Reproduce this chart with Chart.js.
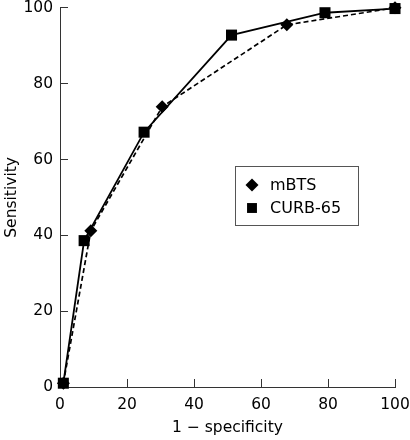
<!DOCTYPE html>
<html>
<head>
<meta charset="utf-8">
<script src="https://cdn.jsdelivr.net/npm/chart.js@4/dist/chart.umd.min.js"></script>
<style>
  html, body { margin: 0; padding: 0; background: #fff; }
  #wrap { width: 410px; height: 440px; }
</style>
</head>
<body>
<div id="wrap"><canvas id="roc"></canvas></div>
<script>
// values (1 - specificity, sensitivity), in %
var mbtsX = [1, 9.2, 30.5, 67.7, 100];
var mbtsY = [1, 41.2, 73.9, 95.5, 100];
var curbX = [1, 7.2, 25.1, 51.2, 79.1, 100];
var curbY = [1, 38.6, 67.2, 92.8, 98.7, 99.8];
var axisTicks = [0, 20, 40, 60, 80, 100];
var seriesNames = ['mBTS', 'CURB-65'];

function pairs(xs, ys) {
  return xs.map(function(x, i) { return { x: x, y: ys[i] }; });
}

var font = { family: 'DejaVu Sans', size: 15.5 };

// legend drawn inside the plot, like the original boxed key
var boxLegend = {
  id: 'boxLegend',
  afterDraw: function(chart) {
    var ctx = chart.ctx;
    ctx.save();
    ctx.strokeStyle = '#555';
    ctx.lineWidth = 1;
    ctx.strokeRect(235.5, 166.5, 123, 59);
    ctx.font = '16px "DejaVu Sans"';
    ctx.textBaseline = 'middle';
    var rows = [185, 208];
    chart.data.datasets.forEach(function(ds, i) {
      ctx.fillStyle = '#000';
      ctx.strokeStyle = '#000';
      ctx.lineWidth = 1;
      Chart.helpers.drawPoint(ctx, {
        pointStyle: ds.pointStyle,
        radius: ds.pointStyle === 'rect' ? 7 : 6.5,
        rotation: 0
      }, 252, rows[i]);
      ctx.fillText(ds.label, 270, rows[i] + 1);
    });
    ctx.restore();
  }
};

function fixY(scale) {
  scale.width = 60;
  scale.paddingTop = 0;
  scale.paddingBottom = 0;
}
function fixX(scale) {
  scale.height = 53;
  scale.paddingLeft = 0;
  scale.paddingRight = 0;
}

new Chart(document.getElementById('roc'), {
  type: 'scatter',
  data: {
    datasets: [{
      label: seriesNames[0],
      data: pairs(mbtsX, mbtsY),
      showLine: true,
      borderColor: '#000',
      borderWidth: 1.7,
      borderDash: [5, 3],
      backgroundColor: '#000',
      pointStyle: 'rectRot',
      pointRadius: 6.5,
      pointBorderWidth: 0,
      clip: false,
      order: 2
    }, {
      label: seriesNames[1],
      data: pairs(curbX, curbY),
      showLine: true,
      borderColor: '#000',
      borderWidth: 1.8,
      backgroundColor: '#000',
      pointStyle: 'rect',
      pointRadius: 7.8,
      pointBorderWidth: 0,
      clip: false,
      order: 1
    }]
  },
  options: {
    responsive: true,
    maintainAspectRatio: false,
    animation: false,
    layout: { padding: { top: 6, right: 15, left: 0, bottom: 0 } },
    plugins: {
      legend: { display: false },
      tooltip: { enabled: false }
    },
    scales: {
      x: {
        type: 'linear',
        min: 0, max: 100,
        afterFit: fixX,
        afterBuildTicks: function(s) { s.ticks = axisTicks.map(function(v) { return { value: v }; }); },
        border: { color: '#333', width: 1 },
        grid: { drawOnChartArea: false, tickLength: -8, color: '#333' },
        ticks: { color: '#000', font: font, padding: 17, maxRotation: 0 },
        title: { display: true, text: '1 − specificity', color: '#000', font: font, padding: { top: 0, bottom: 3 } }
      },
      y: {
        type: 'linear',
        min: 0, max: 100,
        afterFit: fixY,
        afterBuildTicks: function(s) { s.ticks = axisTicks.map(function(v) { return { value: v }; }); },
        border: { color: '#333', width: 1 },
        grid: { drawOnChartArea: false, tickLength: -8, color: '#333' },
        ticks: { color: '#000', font: font, padding: 15 },
        title: { display: true, text: 'Sensitivity', color: '#000', font: font, padding: { top: 3, bottom: 0 } }
      }
    }
  },
  plugins: [boxLegend]
});
</script>
</body>
</html>
